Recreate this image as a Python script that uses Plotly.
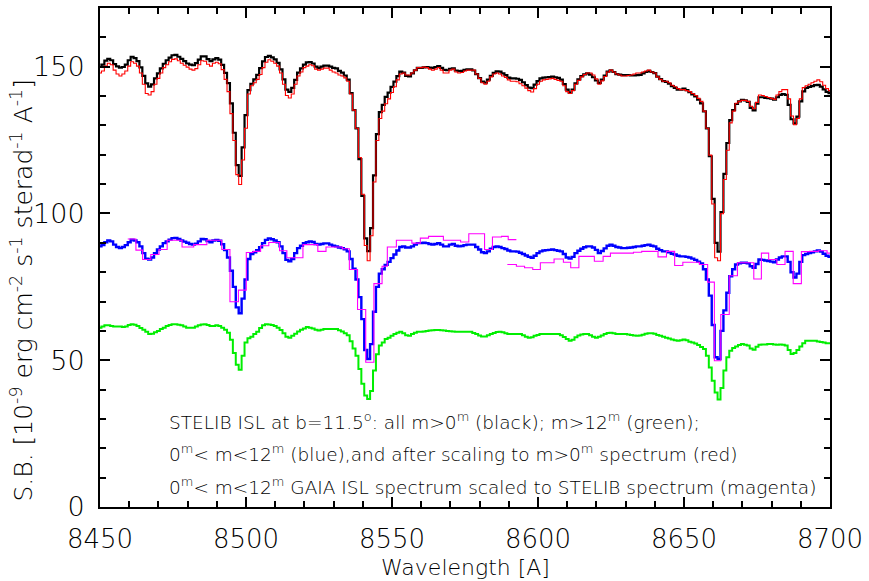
import plotly.graph_objects as go

# Wavelength grid (1 A sampling) of the STELIB integrated spectra
wavelength = list(range(8450, 8701))

# 0m < m < 12m population (blue)
bright_stars = [
    88.8, 89.2, 90.2, 90.8, 90.5, 89.4, 88.6, 88.2, 88.6, 89.2,
    90.2, 91.1, 90.8, 90.2, 88.8, 86.5, 84.6, 84.3, 85.0, 86.5,
    87.7, 88.8, 89.9, 90.5, 91.1, 91.6, 91.7, 91.3, 90.8, 90.4,
    90.0, 89.6, 89.4, 89.7, 90.5, 91.3, 91.2, 90.6, 90.2, 90.8,
    91.0, 90.7, 89.5, 87.5, 85.0, 80.5, 75.0, 68.0, 66.0, 71.0,
    77.5, 84.5, 86.2, 86.8, 87.5, 88.5, 89.9, 91.0, 91.5, 91.2,
    90.8, 90.2, 88.8, 86.5, 84.2, 83.7, 84.5, 86.5, 88.2, 89.0,
    89.9, 90.2, 90.5, 90.3, 89.6, 89.4, 89.6, 89.8, 89.8, 89.4,
    89.0, 88.8, 88.4, 88.2, 87.8, 87.1, 84.5, 81.2, 77.5, 71.5,
    64.0, 53.5, 50.4, 55.5, 66.5, 75.0, 79.5, 81.0, 82.5, 83.5,
    84.8, 86.0, 87.4, 88.6, 88.8, 88.4, 88.4, 88.8, 89.4, 89.9,
    89.9, 90.0, 89.9, 89.6, 89.4, 89.6, 89.9, 89.4, 88.8, 88.8,
    89.4, 89.6, 89.0, 88.8, 88.9, 89.2, 89.4, 89.4, 89.4, 88.6,
    87.7, 86.8, 86.5, 87.1, 88.0, 88.6, 88.8, 88.6, 88.2, 87.9,
    87.4, 87.1, 87.1, 87.0, 86.6, 86.2, 85.7, 85.2, 84.9, 85.6,
    86.5, 87.1, 87.4, 87.5, 87.6, 87.7, 87.5, 87.3, 87.1, 86.2,
    85.0, 84.6, 85.2, 86.5, 87.3, 88.0, 88.5, 88.8, 88.8, 88.4,
    87.6, 86.5, 87.2, 88.1, 89.0, 89.4, 89.0, 88.6, 88.4, 88.2,
    88.2, 88.3, 88.4, 88.6, 88.8, 88.8, 89.0, 89.2, 89.4, 89.0,
    88.8, 88.0, 87.5, 87.1, 87.1, 86.8, 86.3, 86.0, 85.6, 85.4,
    85.4, 85.2, 85.0, 84.6, 84.2, 83.6, 83.0, 81.0, 77.5, 72.0,
    62.0, 51.0, 50.4, 60.0, 67.0, 73.0, 78.6, 81.0, 82.6, 83.0,
    83.2, 83.2, 83.0, 82.0, 81.5, 82.8, 84.3, 84.2, 84.0, 83.8,
    83.6, 83.4, 84.3, 85.0, 85.4, 85.4, 83.5, 80.0, 78.2, 79.5,
    83.5, 85.8, 86.2, 86.5, 86.8, 87.1, 87.4, 87.0, 86.3, 85.6,
    85.2,
]

# m > 12m population (green)
faint_stars = [
    61.1, 61.5, 61.9, 61.9, 61.7, 61.5, 61.5, 61.5, 61.3, 61.5,
    62.0, 62.3, 62.1, 61.7, 61.0, 60.4, 59.7, 58.9, 59.0, 59.5,
    60.0, 60.6, 61.1, 61.7, 62.0, 62.3, 62.3, 62.1, 61.9, 61.5,
    61.1, 61.1, 61.1, 61.5, 61.9, 62.2, 62.3, 62.0, 61.7, 61.7,
    61.9, 61.7, 61.1, 60.4, 59.4, 57.0, 52.5, 48.5, 46.8, 51.5,
    56.0, 57.5, 58.0, 58.9, 59.7, 61.0, 61.9, 62.3, 62.2, 62.0,
    61.7, 61.1, 60.3, 59.2, 58.0, 57.7, 58.3, 59.0, 59.8, 60.4,
    60.8, 61.3, 61.1, 60.8, 60.4, 60.1, 60.4, 60.6, 60.6, 60.6,
    60.6, 60.6, 60.2, 59.8, 59.2, 58.5, 56.5, 54.0, 51.5, 47.0,
    42.0, 38.0, 36.8, 39.5, 46.5, 52.0, 55.0, 56.0, 57.2, 57.7,
    58.3, 58.9, 59.4, 59.7, 59.2, 58.5, 58.3, 58.9, 59.4, 59.7,
    59.7, 59.8, 60.0, 60.1, 60.2, 60.3, 60.3, 60.2, 60.1, 60.0,
    59.9, 59.8, 59.7, 59.7, 59.7, 59.7, 59.7, 59.7, 59.3, 58.9,
    58.4, 58.1, 58.1, 58.5, 58.9, 59.3, 59.6, 59.7, 59.5, 59.2,
    58.9, 58.9, 58.9, 58.9, 58.9, 58.5, 58.0, 57.7, 57.8, 58.3,
    58.6, 58.9, 58.9, 58.9, 58.9, 58.9, 58.9, 58.9, 58.5, 57.9,
    57.2, 56.6, 57.0, 57.8, 58.4, 58.8, 58.9, 58.9, 58.5, 58.0,
    57.7, 58.0, 58.4, 58.9, 59.3, 59.4, 59.2, 58.9, 58.9, 58.9,
    58.9, 58.8, 58.6, 58.4, 58.3, 58.4, 58.7, 59.0, 59.2, 59.2,
    59.0, 58.6, 58.3, 58.0, 57.7, 57.4, 57.1, 56.8, 56.6, 56.8,
    57.1, 56.8, 56.3, 56.0, 55.7, 55.2, 54.5, 53.8, 51.5, 47.5,
    43.0, 39.0, 36.6, 40.5, 46.5, 51.0, 53.2, 54.2, 54.7, 55.2,
    55.5, 55.3, 55.0, 54.0, 53.6, 54.6, 55.3, 55.4, 55.4, 55.5,
    55.5, 55.4, 55.3, 55.4, 55.3, 55.0, 53.5, 52.1, 52.5, 53.5,
    54.7, 55.8, 56.6, 56.6, 56.6, 56.6, 56.4, 56.2, 56.0, 55.8,
    55.8,
]

# Factor bringing the 0m<m<12m spectrum to the m>0m level (red)
scale_to_all = 1.665

# GAIA ISL spectrum, scaled: bin left edges and values, two pieces
gaia_edges_a = [
    8459.5, 8462.3, 8464.6, 8467.4, 8470.2, 8473.0, 8478.1, 8482.1,
    8486.6, 8491.7, 8494.5, 8497.4, 8500.1, 8502.4, 8505.0, 8507.8,
    8511.5, 8514.0, 8519.5, 8524.6, 8527.4, 8533.0, 8535.4, 8538.2,
    8541.0, 8543.8, 8546.6, 8548.4, 8551.5, 8556.8, 8559.7, 8562.5,
    8567.6, 8573.5, 8576.3, 8581.7, 8584.4, 8587.5, 8589.8, 8592.6,
]
gaia_values_a = [
    91.3, 87.5, 84.3, 86.0, 87.7, 90.9, 88.6, 89.4,
    90.9, 87.7, 69.9, 73.9, 86.7, 87.1, 89.0, 90.1,
    87.3, 84.9, 89.4, 87.1, 88.6, 88.0, 80.9, 67.3,
    49.3, 76.1, 82.0, 88.6, 90.9, 89.9, 91.6, 92.2,
    90.9, 90.3, 93.1, 87.7, 92.0, 92.2, 91.1,
]
gaia_edges_b = [
    8589.5, 8592.6, 8595.4, 8598.2, 8600.8, 8605.5, 8608.7, 8611.2,
    8614.0, 8619.3, 8622.3, 8624.8, 8632.7, 8635.5, 8641.1, 8644.0,
    8646.8, 8649.6, 8655.3, 8658.1, 8660.4, 8662.6, 8665.5, 8668.3,
    8673.9, 8676.5, 8679.0, 8681.8, 8684.6, 8687.4, 8690.2, 8693.0,
    8696.0, 8699.0, 8700.0,
]
gaia_values_b = [
    82.6, 82.0, 81.5, 80.9, 83.2, 84.5, 83.4, 81.5,
    85.4, 83.7, 85.4, 86.5, 86.8, 87.1, 85.2, 87.1,
    82.3, 83.4, 82.6, 76.6, 49.8, 65.6, 78.8, 83.2,
    77.7, 86.5, 84.3, 82.6, 87.1, 76.1, 87.0, 87.1,
    87.3, 86.5,
]

x_ticks = [8450, 8500, 8550, 8600, 8650, 8700]
y_ticks = [0, 50, 100, 150]

# All stars = bright + faint; red = bright rescaled
all_stars = [b + f for b, f in zip(bright_stars, faint_stars)]
bright_scaled = [b * scale_to_all for b in bright_stars]

FONT = "DejaVu Sans"
WEIGHT = 300

fig = go.Figure()


def step(x, y, color, width, shape="hvh"):
    fig.add_trace(go.Scatter(x=x, y=y, mode="lines",
                             line=dict(color=color, width=width, shape=shape),
                             showlegend=False, hoverinfo="skip"))


step(wavelength, all_stars, "#000000", 2.2)
step(wavelength, bright_scaled, "#ff0000", 1.1)
step(wavelength, bright_stars, "#0000ff", 2.4)
step(gaia_edges_a, gaia_values_a + [gaia_values_a[-1]], "#ff00ff", 1.1, "hv")
step(gaia_edges_b, gaia_values_b + [gaia_values_b[-1]], "#ff00ff", 1.1, "hv")
step(wavelength, faint_stars, "#00ee00", 2.0)

axis_common = dict(
    showgrid=False, zeroline=False, showline=True, linecolor="black",
    linewidth=2, mirror="ticks", ticks="inside", ticklen=10, tickwidth=2,
    tickcolor="black", ticklabeloverflow="allow",
)

fig.update_xaxes(
    range=[8450, 8700], tickvals=x_ticks,
    tickfont=dict(family=FONT, size=26, color="black", weight=WEIGHT),
    minor=dict(dtick=10, ticks="inside", ticklen=6, tickwidth=1.5,
               tickcolor="black", showgrid=False),
    ticklabelstandoff=8, **axis_common)
fig.update_yaxes(
    range=[0, 170], tickvals=y_ticks,
    tickfont=dict(family=FONT, size=27, color="black", weight=WEIGHT),
    minor=dict(dtick=10, ticks="inside", ticklen=6, tickwidth=1.5,
               tickcolor="black", showgrid=False),
    ticklabelstandoff=8, **axis_common)

caption = [
    "STELIB ISL at b=11.5<sup>o</sup>: all m&gt;0<sup>m</sup> (black); m&gt;12<sup>m</sup> (green);",
    "0<sup>m</sup>&lt; m&lt;12<sup>m</sup> (blue),and after scaling to m&gt;0<sup>m</sup> spectrum (red)",
    "0<sup>m</sup>&lt; m&lt;12<sup>m</sup> GAIA ISL spectrum scaled to STELIB spectrum (magenta)",
]
caption_y = [0.172, 0.108, 0.042]
annotations = []
for txt, yy in zip(caption, caption_y):
    annotations.append(dict(
        text=txt, xref="paper", yref="paper", x=0.092, y=yy,
        xanchor="left", yanchor="middle", showarrow=False,
        font=dict(family=FONT, size=18.5, color="black", weight=WEIGHT)))

annotations.append(dict(
    text="Wavelength [A]", xref="paper", yref="paper", x=0.5, y=-0.121,
    xanchor="center", yanchor="middle", showarrow=False,
    font=dict(family=FONT, size=22, color="black", weight=WEIGHT)))
annotations.append(dict(
    text="S.B. [10<sup>-9</sup> erg cm<sup>-2</sup> s<sup>-1</sup> sterad<sup>-1</sup> A<sup>-1</sup>]",
    xref="paper", yref="paper", x=-0.106, y=0.435, textangle=-90,
    xanchor="center", yanchor="middle", showarrow=False,
    font=dict(family=FONT, size=25, color="black", weight=WEIGHT)))

fig.update_layout(
    width=869, height=581,
    margin=dict(l=100, r=32, t=6, b=74),
    paper_bgcolor="white", plot_bgcolor="white",
    annotations=annotations,
)

fig.write_html("out.html")
